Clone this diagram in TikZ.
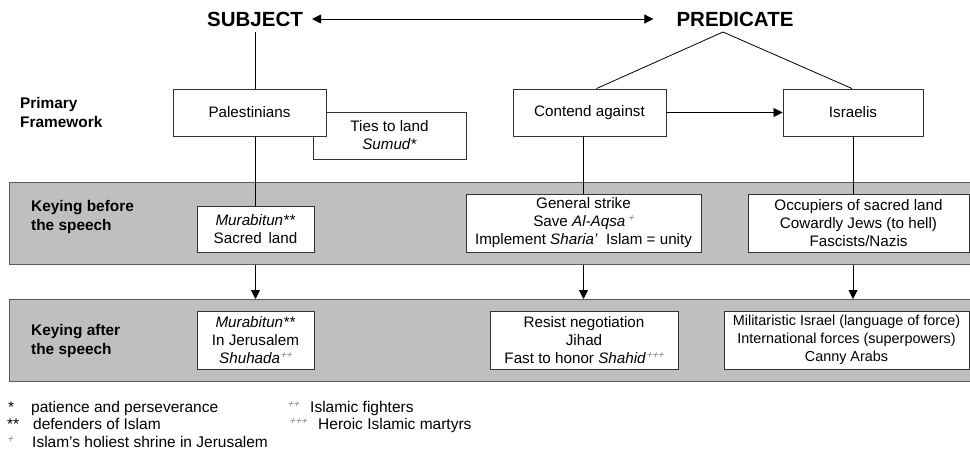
\documentclass[tikz,border=0pt]{standalone}
\usepackage{fontspec}
\setmainfont{Liberation Sans}
\newfontfamily\plusfont[FakeSlant=0.3]{Liberation Sans}
\usetikzlibrary{arrows.meta,calc}
\newcommand\pl[1]{\raisebox{5pt}{\textcolor{black!50}{\plusfont\fontsize{10}{10}\selectfont #1}}}
\begin{document}
\begin{tikzpicture}[x=1pt,y=-1pt,
 box/.style={draw=black!80, line width=0.9pt, fill=white, align=center, inner sep=0pt, font=\fontsize{15.2}{18}\selectfont},
 band/.style={draw=black!65, line width=1.2pt, fill=black!25, inner sep=0pt, anchor=north west, minimum width=975pt, minimum height=82pt},
 head/.style={font=\fontsize{20.5}{24}\selectfont\bfseries, inner sep=0pt, minimum height=26pt},
 lab/.style={font=\fontsize{15.4}{19}\selectfont\bfseries, align=left, anchor=west, inner sep=0pt},
 conn/.style={draw=black, line width=0.8pt},
 arr/.style={conn, -{Triangle[length=9pt,width=9pt]}},
 fn/.style={font=\fontsize{15.5}{18}\selectfont, anchor=base west, inner sep=0pt}
]
\useasboundingbox (0,0) rectangle (970,453);
\fill[white] (0,0) rectangle (970,453);

% bands
\node[band] (b1) at (9,182) {};
\node[band] (b2) at (9,299) {};

% headers
\node[head] (subj) at (255,19) {SUBJECT};
\node[head] (pred) at (735,19) {PREDICATE};
\coordinate (apex) at (723,32);

% row labels
\node[lab] (l1) at (20,112.5) {Primary\\Framework};
\node[lab] (l2) at (31,217.5) {Keying before\\the speech};
\node[lab] (l3) at (31,341) {Keying after\\the speech};

% primary framework boxes
\node[box, minimum width=153pt, minimum height=47pt] (ties) at (389.5,135.5) {Ties to land\\\textit{Sumud*}};
\node[box, minimum width=153pt, minimum height=47pt] (pal) at (249.5,112.5) {Palestinians};
\node[box, minimum width=153pt, minimum height=47pt] (con) at (589.5,112.5) {Contend against};
\node[box, minimum width=140pt, minimum height=47pt] (isr) at (853,112.5) {Israelis};

% keying before
\node[box, minimum width=117pt, minimum height=46pt] (mur1) at (255.5,229) {\textit{Murabitun**}\\Sacred~\,land};
\node[box, minimum width=235pt, minimum height=58pt] (gen) at (583.5,223) {General strike\\Save \textit{Al-Aqsa}\,\pl{+}\\Implement \textit{Sharia'}\ \ Islam = unity};
\node[box, minimum width=221pt, minimum height=58pt] (occ) at (858.5,223) {Occupiers of sacred land\\Cowardly Jews (to hell)\\Fascists/Nazis};

% keying after
\node[box, minimum width=117pt, minimum height=58pt] (mur2) at (255.5,340) {\textit{Murabitun**}\\In Jerusalem\\\textit{Shuhada}\pl{++}};
\node[box, minimum width=188pt, minimum height=58pt] (res) at (584,340) {Resist negotiation\\Jihad\\Fast to honor \textit{Shahid}\pl{+++}};
\node[box, minimum width=245pt, minimum height=58pt, font=\fontsize{14.4}{18}\selectfont] (mil) at (846.5,340) {Militaristic Israel (language of force)\\International forces (superpowers)\\Canny Arabs};

% connectors
\draw[conn, {Triangle[length=9pt,width=9pt]}-{Triangle[length=9pt,width=9pt]}, shorten <=9pt, shorten >=23pt] (subj.east) -- (pred.west);
\draw[conn] (subj.south) -- (subj.south |- pal.north);
\draw[conn] ([xshift=7pt]con.north) -- (apex) -- ([xshift=-1pt]isr.north);
\draw[arr] (con.east) -- (isr.west);
\draw[conn] (mur1.north |- pal.south) -- (mur1.north);
\draw[conn] (gen.north |- con.south) -- (gen.north);
\draw[conn] (isr.south) -- (isr.south |- occ.north);
\draw[arr] (mur1.south |- b1.south) -- (mur1.south |- b2.north);
\draw[arr] (gen.south |- b1.south) -- (gen.south |- b2.north);
\draw[arr] (isr.south |- b1.south) -- (isr.south |- b2.north);

% footnotes
\node[fn] (s1) at (8,412) {*};
\node[fn] (t1) at (31,412) {patience and perseverance};
\node[fn] (s2) at (7,429) {**};
\node[fn] (t2) at (33,429) {defenders of Islam};
\node[fn] (s3) at (7,447) {\pl{+}};
\node[fn] (t3) at (32,447) {Islam’s holiest shrine in Jerusalem};
\node[fn] (s4) at (287,412) {\pl{++}};
\node[fn] (t4) at (310,412) {Islamic fighters};
\node[fn] (s5) at (289,429) {\pl{+++}};
\node[fn] (t5) at (318,429) {Heroic Islamic martyrs};
\end{tikzpicture}
\end{document}
